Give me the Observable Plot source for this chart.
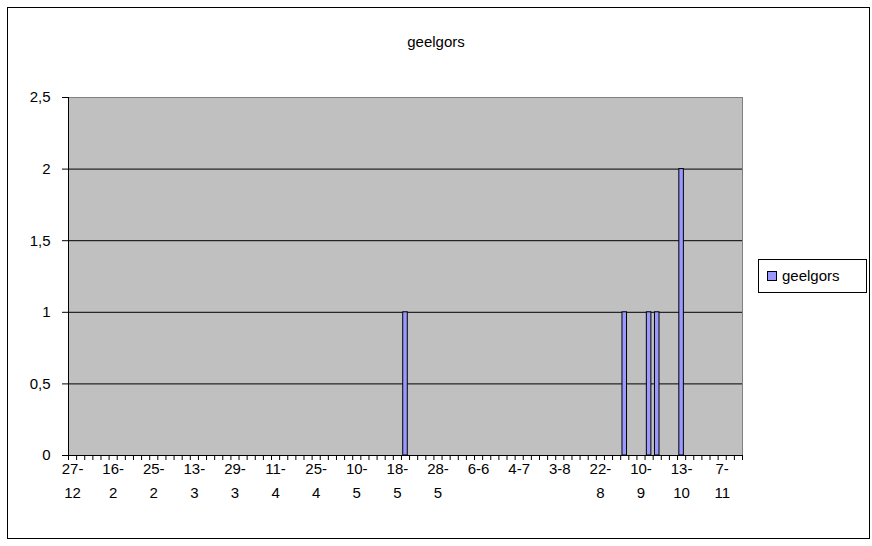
<!DOCTYPE html>
<html><head><meta charset="utf-8">
<script src="https://cdn.jsdelivr.net/npm/d3@7"></script>
<script src="https://cdn.jsdelivr.net/npm/@observablehq/plot@0.6"></script>
<style>
html,body{margin:0;padding:0;background:#fff;}
#chart{position:relative;width:872px;height:546px;}
</style></head><body><div id="chart"></div>
<script>
const chartTitle = "geelgors";
const seriesName = "geelgors";
const tickLabels = ["27-12","16-2","25-2","13-3","29-3","11-4","25-4","10-5","18-5","28-5","6-6","4-7","3-8","22-8","10-9","13-10","7-11"];
const labelEvery = 5;
const values = [
  0,0,0,0,0,0,0,0,0,0,
  0,0,0,0,0,0,0,0,0,0,
  0,0,0,0,0,0,0,0,0,0,
  0,0,0,0,0,0,0,0,0,0,
  0,1,0,0,0,0,0,0,0,0,
  0,0,0,0,0,0,0,0,0,0,
  0,0,0,0,0,0,0,0,1,0,
  0,1,1,0,0,2,0,0,0,0,
  0,0,0
];
const yTicks = [0, 0.5, 1, 1.5, 2, 2.5];

const FONT = "'Liberation Sans', Arial, sans-serif";
const FS = 15;

const data = values.map((v, i) => ({i, v}));
const labelData = tickLabels.map((t, k) => ({pos: k * labelEvery + 0.5, text: t.length > 3 ? t.replace("-", "-\n") : t}));

const plot = Plot.plot({
  width: 872, height: 546,
  marginLeft: 68, marginRight: 130, marginTop: 97, marginBottom: 91,
  style: {fontFamily: FONT, fontSize: FS + "px", background: "white", color: "black", overflow: "visible"},
  x: {type: "linear", domain: [0, values.length], axis: null, label: null},
  y: {domain: [0, 2.5], axis: null, label: null},
  marks: [
    Plot.frame({fill: "#c0c0c0", stroke: "#808080"}),
    Plot.ruleY(yTicks.filter(t => t > 0 && t < 2.5), {stroke: "black", strokeWidth: 1}),
    Plot.rect(data.filter(d => d.v > 0), {x1: d => d.i + 0.22, x2: d => d.i + 0.78, y1: d => 0, y2: "v", fill: "#9999ff", stroke: "black", strokeWidth: 1}),
    Plot.ruleX([0], {stroke: "black"}),
    Plot.ruleY([0], {stroke: "black"}),
    Plot.axisY({ticks: yTicks, tickFormat: d => String(d).replace(".", ","), tickSize: 6, tickPadding: 12, fontSize: FS, label: null}),
    Plot.axisX({ticks: d3.range(0, values.length + 1), tickFormat: () => "", tickSize: 5, anchor: "bottom", label: null}),
    Plot.text(labelData, {x: "pos", y: d => 0, text: "text", dy: 1, lineAnchor: "top", lineHeight: 1.6, fontSize: FS})
  ]
});

const svg = d3.select(plot);
// outer chart border
svg.insert("rect", ":first-child").attr("x", 7.5).attr("y", 7.5).attr("width", 862).attr("height", 531)
  .attr("fill", "white").attr("stroke", "black").attr("stroke-width", 1);
// title
svg.append("text").attr("x", 436).attr("y", 47).attr("text-anchor", "middle")
  .attr("font-family", FONT).attr("font-size", FS).attr("fill", "black").text(chartTitle);
// legend
const lg = svg.append("g");
lg.append("rect").attr("x", 758.5).attr("y", 259.5).attr("width", 108).attr("height", 33)
  .attr("fill", "white").attr("stroke", "black");
lg.append("rect").attr("x", 767.5).attr("y", 271.5).attr("width", 9).attr("height", 9)
  .attr("fill", "#9999ff").attr("stroke", "black");
lg.append("text").attr("x", 782).attr("y", 281).attr("text-anchor", "start").attr("font-family", FONT).attr("font-size", FS)
  .attr("fill", "black").text(seriesName);

document.getElementById("chart").appendChild(plot);
</script></body></html>
